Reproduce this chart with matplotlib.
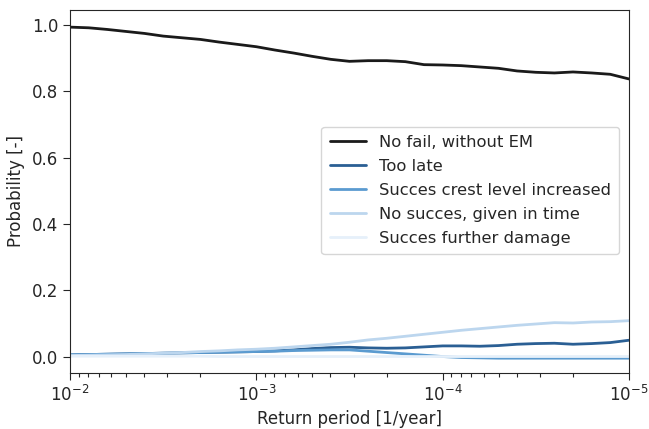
import numpy as np
import matplotlib
matplotlib.use('Agg')
import matplotlib.pyplot as plt
from matplotlib.ticker import LogLocator, NullFormatter
import seaborn as sns

# return periods, 0.1 decade steps from 1e-2 to 1e-5
return_period = np.logspace(-2, -5, 31)

no_fail = [0.993, 0.991, 0.986, 0.980, 0.974, 0.966, 0.961, 0.956, 0.948, 0.941,
           0.934, 0.924, 0.915, 0.905, 0.896, 0.890, 0.892, 0.892, 0.889, 0.880,
           0.879, 0.877, 0.873, 0.869, 0.861, 0.857, 0.855, 0.858, 0.855, 0.851, 0.837]
too_late = [0.006, 0.007, 0.008, 0.009, 0.010, 0.011, 0.012, 0.013, 0.014, 0.015,
            0.016, 0.018, 0.021, 0.025, 0.028, 0.029, 0.027, 0.026, 0.027, 0.030,
            0.033, 0.033, 0.032, 0.034, 0.038, 0.040, 0.041, 0.038, 0.040, 0.043, 0.050]
crest_increased = [0.006, 0.007, 0.008, 0.009, 0.010, 0.011, 0.012, 0.013, 0.014, 0.015,
                   0.016, 0.017, 0.019, 0.020, 0.021, 0.021, 0.017, 0.013, 0.009, 0.005,
                   0.001, -0.002, -0.003, -0.004, -0.004, -0.004, -0.004, -0.004, -0.004, -0.004, -0.004]
no_succes = [0.004, 0.005, 0.006, 0.007, 0.009, 0.011, 0.013, 0.016, 0.018, 0.021,
             0.023, 0.026, 0.030, 0.034, 0.038, 0.044, 0.051, 0.056, 0.062, 0.068,
             0.074, 0.080, 0.085, 0.090, 0.095, 0.099, 0.103, 0.102, 0.105, 0.106, 0.109]
further_damage = [0.002, 0.002, 0.002, 0.002, 0.002, 0.002, 0.002, 0.002, 0.001, 0.001,
                  0.001, 0.001, 0.001, 0.001, 0.001, 0.001, 0.001, 0.001, 0.001, 0.001,
                  0.001, 0.001, 0.001, 0.001, 0.001, 0.001, 0.001, 0.001, 0.001, 0.001, 0.001]

labels = ['No fail, without EM', 'Too late', 'Succes crest level increased',
          'No succes, given in time', 'Succes further damage']
colors = ['#1a1a1a', '#2a5f94', '#5b9bd0', '#bcd6ee', '#e6f0fa']

sns.set_style('ticks')
plt.rcParams['font.family'] = ['DejaVu Sans']
plt.rcParams['xtick.minor.visible'] = True

fig = plt.figure(figsize=(6.49, 4.29), dpi=100)
ax = fig.add_axes([0.108, 0.131, 0.861, 0.846])

series = [no_fail, too_late, crest_increased, no_succes, further_damage]
for vals, lab, col in zip(series, labels, colors):
    ax.plot(return_period, vals, color=col, lw=2.0, label=lab)

ax.set_xscale('log')
ax.set_xlim(1e-2, 1e-5)
ax.xaxis.set_minor_locator(LogLocator(base=10, subs=np.arange(2, 10), numticks=20))
ax.xaxis.set_minor_formatter(NullFormatter())
ax.set_ylim(-0.048, 1.045)
ax.set_yticks([0.0, 0.2, 0.4, 0.6, 0.8, 1.0])
ax.tick_params(which='major', labelsize=12, length=5)
ax.tick_params(axis='x', which='minor', bottom=True, length=3, width=0.8,
               color='#262626')
ax.set_xlabel('Return period [1/year]', fontsize=12)
ax.set_ylabel('Probability [-]', fontsize=12, labelpad=5)

ax.legend(loc='upper right', bbox_to_anchor=(0.997, 0.70), fontsize=11.8,
          handlelength=2.2, borderpad=0.5, labelspacing=0.55)

fig.savefig('out.png', dpi=100)
